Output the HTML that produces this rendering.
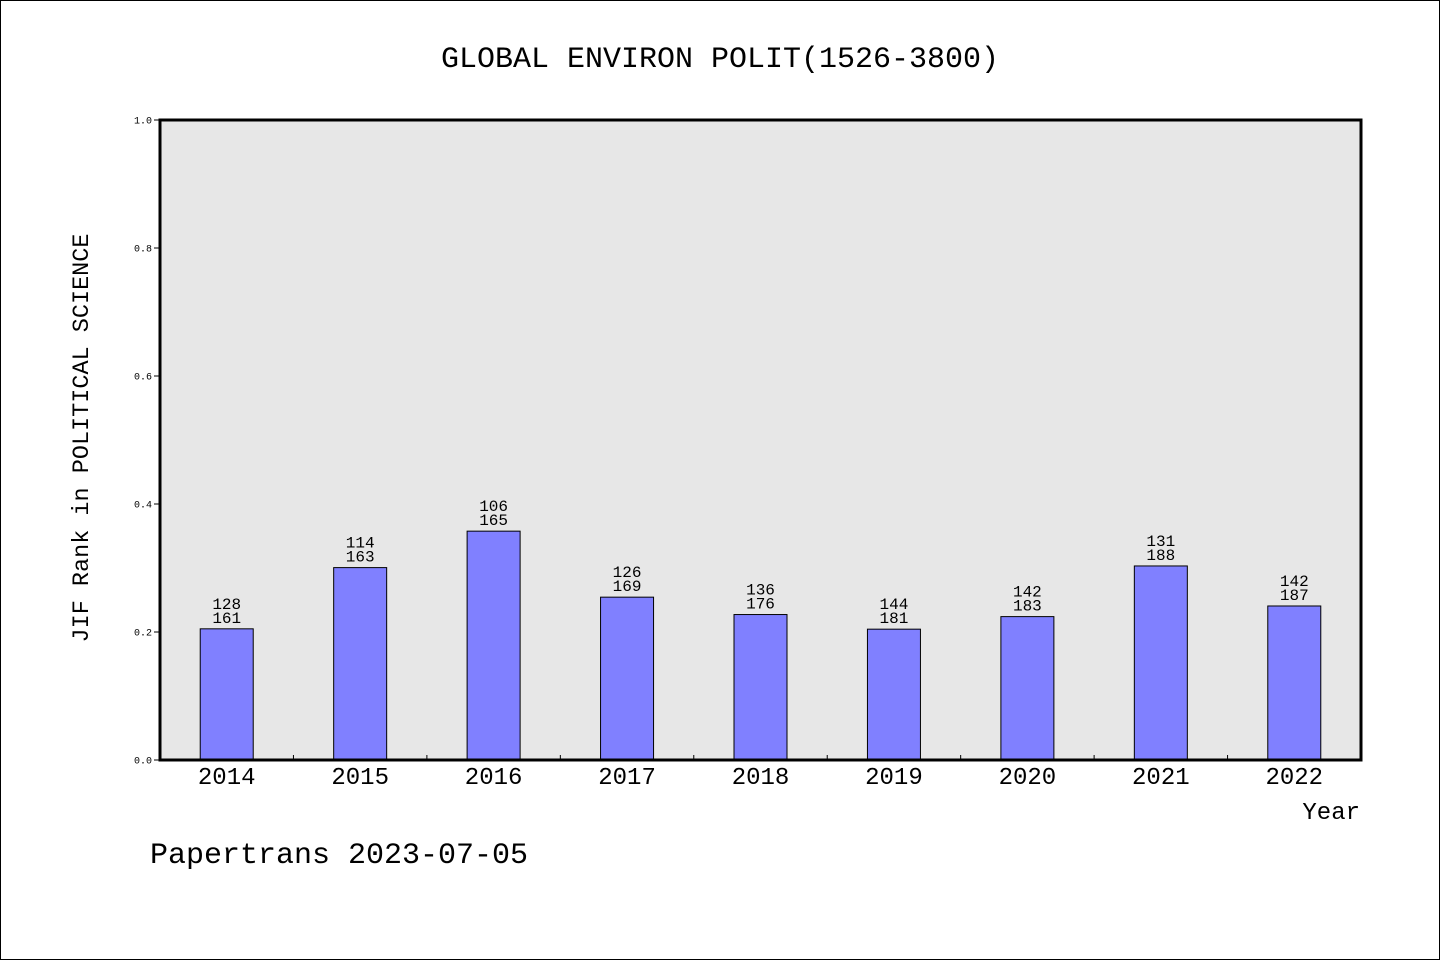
<!DOCTYPE html>
<html><head><meta charset="utf-8">
<style>
html,body{margin:0;padding:0;background:#fff;}
svg{display:block;}
text{font-family:"Liberation Mono","WenQuanYi Zen Hei",monospace;fill:#000;}
</style></head>
<body>
<svg id="chart" width="1440" height="960" xmlns="http://www.w3.org/2000/svg">
<rect x="0.5" y="0.5" width="1439" height="959" fill="#fff" stroke="#000"/>
<text x="720" y="67" font-size="30" text-anchor="middle">GLOBAL ENVIRON POLIT(1526-3800)</text>
<rect x="160" y="120" width="1201" height="640" fill="#e7e7e7"/>
<g id="yticks"></g>
<g id="bars"></g>
<rect x="160" y="120" width="1201" height="640" fill="none" stroke="#000" stroke-width="3"/>
<text transform="translate(88,438) rotate(-90)" font-size="23.5" text-anchor="middle">JIF Rank in POLITICAL SCIENCE</text>
<text x="1360" y="819" font-size="24" text-anchor="end">Year</text>
<text x="150" y="863" font-size="30">Papertrans 2023-07-05</text>
</svg>
<script>
const years = ["2014","2015","2016","2017","2018","2019","2020","2021","2022"];
const ranks = [128,114,106,126,136,144,142,131,142];
const totals = [161,163,165,169,176,181,183,188,187];
const yTickValues = [0,0.2,0.4,0.6,0.8,1.0];
const yTickLabels = ["0.0","0.2","0.4","0.6","0.8","1.0"];

const NS="http://www.w3.org/2000/svg";
const x0=160,x1=1361,y0=760,y1=120;
const slot=(x1-x0)/years.length;
const xCenter=i=>x0+slot*(i+0.5);
const yScale=v=>y0-(y0-y1)*v;
function mk(tag,attrs,parent){const e=document.createElementNS(NS,tag);for(const k in attrs)e.setAttribute(k,attrs[k]);parent.appendChild(e);return e;}

const yt=document.getElementById('yticks');
yTickValues.forEach((v,i)=>{
  const y=yScale(v);
  const l=mk('line',{x1:x0-6,x2:x0,y1:y,y2:y,stroke:'#000','stroke-width':1},yt);
  
  
  const t=mk('text',{x:152,y:y+3.5,'font-size':10,'text-anchor':'end'},yt);
  t.textContent=yTickLabels[i];
  
  
});

const bg=document.getElementById('bars');
for(let i=1;i<years.length;i++){
  const x=x0+slot*i;
  const l=mk('line',{x1:x,x2:x,y1:y0,y2:y0-5,stroke:'#000','stroke-width':1},bg);
  
  
}
years.forEach((yr,i)=>{
  const v=1-ranks[i]/totals[i];
  const cx=xCenter(i), w=53, top=yScale(v);
  const r=mk('rect',{x:cx-w/2,y:top,width:w,height:y0-top,fill:'#8080ff',stroke:'#000','stroke-width':1},bg);
  
  
  const t1=mk('text',{x:cx,y:top-20,'font-size':16,'text-anchor':'middle'},bg);
  t1.textContent=ranks[i];
  
  
  const t2=mk('text',{x:cx,y:top-6,'font-size':16,'text-anchor':'middle'},bg);
  t2.textContent=totals[i];
  
  
  const xl=mk('text',{x:cx,y:784,'font-size':24,'text-anchor':'middle'},bg);
  xl.textContent=yr;
  
  
});
</script>
</body></html>
